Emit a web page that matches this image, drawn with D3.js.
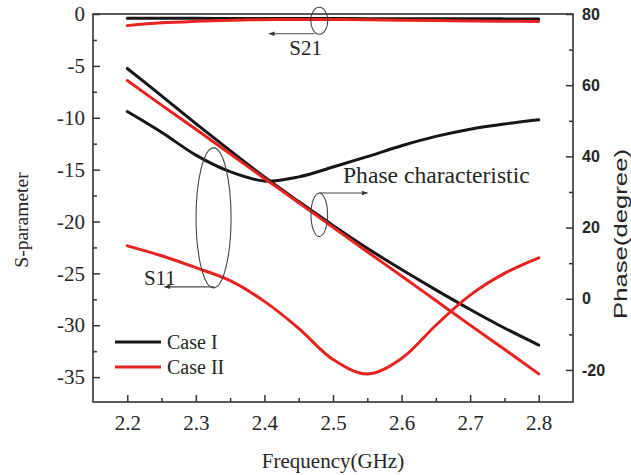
<!DOCTYPE html>
<html><head><meta charset="utf-8">
<script src="https://cdn.jsdelivr.net/npm/d3@7"></script>
<style>
html,body{margin:0;padding:0;background:#fff;}
svg{display:block;}
</style></head>
<body>
<svg id="chart" width="631" height="475"></svg>
<script>
// ---- data ----
const freq = [2.2, 2.25, 2.3, 2.35, 2.4, 2.45, 2.5, 2.55, 2.6, 2.65, 2.7, 2.75, 2.8];
const s21Case1 = [-0.42, -0.42, -0.42, -0.43, -0.43, -0.44, -0.44, -0.45, -0.45, -0.46, -0.46, -0.47, -0.47];
const s21Case2 = [-1.12, -0.85, -0.7, -0.6, -0.55, -0.52, -0.52, -0.55, -0.6, -0.63, -0.67, -0.7, -0.72];
const s11Case1 = [-9.4, -11.4, -13.6, -15.2, -16.1, -15.7, -14.75, -13.75, -12.7, -11.8, -11.1, -10.6, -10.2];
const s11Case2 = [-22.35, -23.3, -24.45, -25.7, -27.7, -30.3, -33.3, -34.7, -33.2, -30.0, -27.1, -25.0, -23.5];
const phaseCase1 = [64.7, 57.0, 49.2, 41.6, 34.2, 27.3, 20.6, 14.2, 8.2, 2.5, -3.0, -8.2, -13.0];
const phaseCase2 = [61.3, 54.4, 47.6, 40.7, 33.8, 27.0, 20.1, 13.2, 6.4, -0.5, -7.4, -14.2, -21.1];
const xTicks = [2.2, 2.3, 2.4, 2.5, 2.6, 2.7, 2.8];
const leftTicks = [0, -5, -10, -15, -20, -25, -30, -35];
const rightTicks = [80, 60, 40, 20, 0, -20];
const legendLabels = ["Case I", "Case II"];
const colors = ["#161616", "#e8231f"];

// ---- layout ----
const svg = d3.select("#chart");
const L = 93, R = 573, T = 14, B = 402;
const x = d3.scaleLinear().domain([2.15, 2.85]).range([L, R]);
const yL = d3.scaleLinear().domain([-37.4, 0]).range([B, T]);
const yR = d3.scaleLinear().domain([-29, 80]).range([B, T]);
const serif = "'Liberation Serif','Times New Roman',serif";
const sans = "'Liberation Sans',Arial,sans-serif";
const txt = "#262626", axisCol = "#333";

// defs: arrow marker
svg.append("defs").append("marker")
  .attr("id", "arr").attr("viewBox", "0 -4 8 8").attr("refX", 7).attr("refY", 0)
  .attr("markerUnits", "userSpaceOnUse").attr("markerWidth", 7).attr("markerHeight", 6)
  .attr("orient", "auto")
  .append("path").attr("d", "M0,-3L8,0L0,3Z").attr("fill", "#333");

// ---- axes ----
function styleAxis(g, font, size, weight) {
  g.select(".domain").remove();
  g.selectAll(".tick line").attr("stroke", axisCol).attr("stroke-width", 1.5);
  g.selectAll(".tick text").attr("fill", txt).style("font-family", font)
    .style("font-size", size + "px").style("font-weight", weight || "normal");
}
// left
const gl = svg.append("g").attr("transform", `translate(${L},0)`)
  .call(d3.axisLeft(yL).tickValues(leftTicks).tickSize(-7).tickPadding(8).tickSizeOuter(0).tickFormat(d3.format("d")));
styleAxis(gl, serif, 21);
gl.selectAll(".tick text").text(d => d < 0 ? "-" + Math.abs(d) : d);
const glm = svg.append("g").attr("transform", `translate(${L},0)`)
  .call(d3.axisLeft(yL).tickValues(d3.range(-2.5, -37.5, -5)).tickSize(-4).tickFormat(""));
styleAxis(glm, serif, 21);
// right
const gr = svg.append("g").attr("transform", `translate(${R},0)`)
  .call(d3.axisRight(yR).tickValues(rightTicks).tickSize(-7).tickPadding(9).tickSizeOuter(0));
styleAxis(gr, sans, 16, "bold");
gr.selectAll(".tick text").text(d => d < 0 ? "-" + Math.abs(d) : d);
const grm = svg.append("g").attr("transform", `translate(${R},0)`)
  .call(d3.axisRight(yR).tickValues([70, 50, 30, 10, -10]).tickSize(-4).tickFormat(""));
styleAxis(grm, sans, 16);
// bottom
const gb = svg.append("g").attr("transform", `translate(0,${B})`)
  .call(d3.axisBottom(x).tickValues(xTicks).tickSize(-7).tickPadding(13).tickSizeOuter(0).tickFormat(d3.format(".1f")));
styleAxis(gb, serif, 21);
const gbm = svg.append("g").attr("transform", `translate(0,${B})`)
  .call(d3.axisBottom(x).tickValues([2.25, 2.35, 2.45, 2.55, 2.65, 2.75]).tickSize(-4).tickFormat(""));
styleAxis(gbm, serif, 21);

// frame
svg.append("rect").attr("x", L).attr("y", T).attr("width", R - L).attr("height", B - T)
  .attr("fill", "none").attr("stroke", axisCol).attr("stroke-width", 1.6);

// axis titles
svg.append("text").attr("x", (L + R) / 2).attr("y", 468).attr("text-anchor", "middle")
  .style("font-family", serif).style("font-size", "21px").attr("fill", txt).text("Frequency(GHz)");
svg.append("text").attr("transform", "translate(28,220) rotate(-90)").attr("text-anchor", "middle")
  .style("font-family", serif).style("font-size", "19.5px").attr("fill", txt).text("S-parameter");
svg.append("text").attr("transform", "translate(627,234) rotate(-90)").attr("text-anchor", "middle")
  .attr("textLength", 170).attr("lengthAdjust", "spacingAndGlyphs")
  .style("font-family", sans).style("font-size", "18px").attr("fill", txt).text("Phase(degree)");

// ---- lines ----
const lineL = d3.line().x((d, i) => x(freq[i])).y(d => yL(d)).curve(d3.curveCatmullRom.alpha(0.5));
const lineR = d3.line().x((d, i) => x(freq[i])).y(d => yR(d)).curve(d3.curveCatmullRom.alpha(0.5));
const series = [
  {v: s21Case1, c: 0, f: lineL}, {v: s11Case1, c: 0, f: lineL}, {v: phaseCase1, c: 0, f: lineR},
  {v: s21Case2, c: 1, f: lineL}, {v: s11Case2, c: 1, f: lineL}, {v: phaseCase2, c: 1, f: lineR}
];
svg.append("g").selectAll("path").data(series).join("path")
  .attr("d", d => d.f(d.v)).attr("fill", "none")
  .attr("stroke", d => colors[d.c]).attr("stroke-width", 3).attr("stroke-linecap", "round");

// ---- annotations ----
const ann = svg.append("g").attr("fill", "none").attr("stroke", "#444").attr("stroke-width", 1.1);
// S21
ann.append("ellipse").attr("cx", x(2.48)).attr("cy", yL(-0.65)).attr("rx", 8.5).attr("ry", 13.5);
ann.append("line").attr("x1", x(2.473)).attr("y1", yL(-1.9)).attr("x2", x(2.407)).attr("y2", yL(-1.9)).attr("marker-end", "url(#arr)");
// S11
ann.append("ellipse").attr("cx", x(2.3258)).attr("cy", yL(-19.65)).attr("rx", 17.5).attr("ry", 70);
ann.append("line").attr("x1", x(2.327)).attr("y1", yL(-26.3)).attr("x2", x(2.2545)).attr("y2", yL(-26.3)).attr("marker-end", "url(#arr)");
// Phase
ann.append("ellipse").attr("cx", x(2.48)).attr("cy", yL(-19.35)).attr("rx", 8.3).attr("ry", 21.7);
ann.append("line").attr("x1", x(2.48)).attr("y1", yL(-17.25)).attr("x2", x(2.55)).attr("y2", yL(-17.25)).attr("marker-end", "url(#arr)");

const annT = svg.append("g").style("font-family", serif).attr("fill", txt);
annT.append("text").attr("x", x(2.46)).attr("y", yL(-3.95)).attr("text-anchor", "middle").style("font-size", "21px").text("S21");
annT.append("text").attr("x", x(2.2475)).attr("y", yL(-26.1)).attr("text-anchor", "middle").style("font-size", "21px").text("S11");
annT.append("text").attr("x", 343).attr("y", yL(-16.3)).style("font-size", "23.6px").text("Phase characteristic");

// ---- legend ----
const lg = svg.append("g").selectAll("g").data(legendLabels).join("g")
  .attr("transform", (d, i) => `translate(115,${342 + i * 25})`);
lg.append("line").attr("x1", 0).attr("x2", 46).attr("y1", 0).attr("y2", 0)
  .attr("stroke", (d, i) => colors[i]).attr("stroke-width", 3);
lg.append("text").attr("x", 52).attr("y", 6.5).style("font-family", serif).style("font-size", "20px")
  .attr("fill", txt).text(d => d);
</script>
</body></html>
